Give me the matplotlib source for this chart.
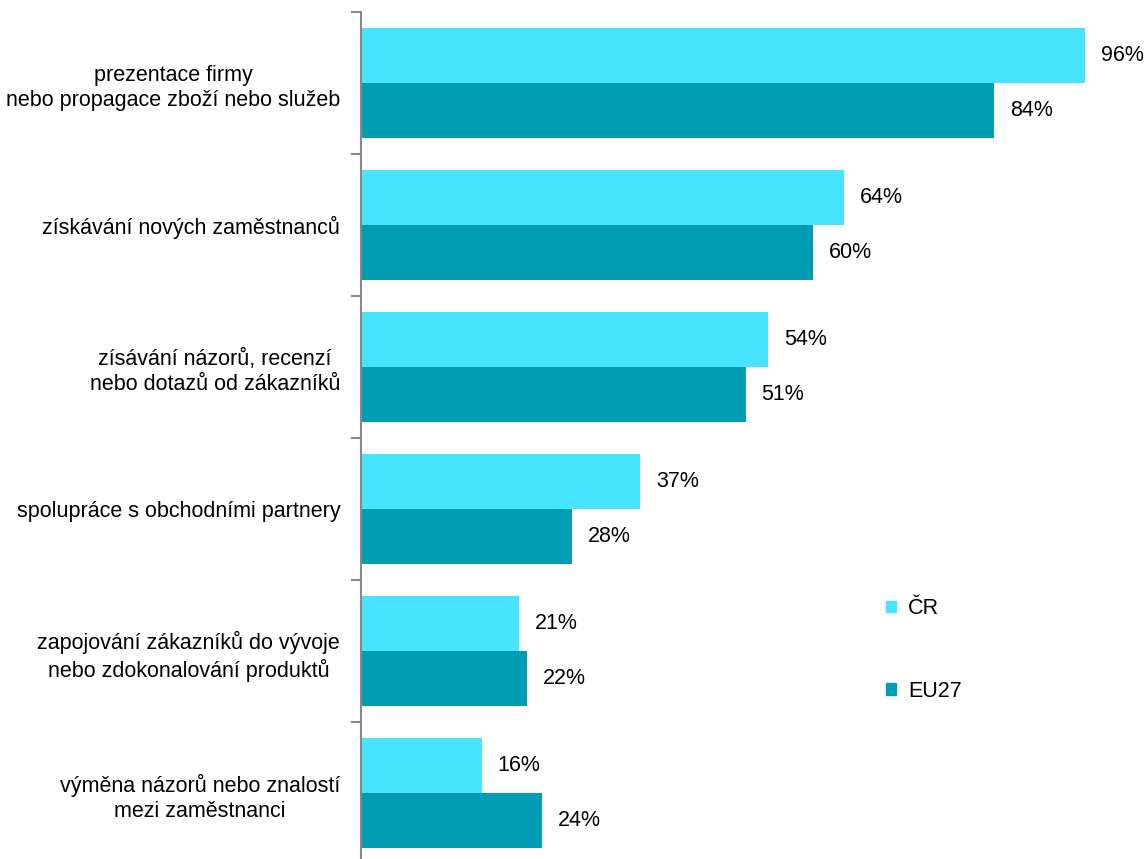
import matplotlib
matplotlib.use("Agg")
import matplotlib.pyplot as plt
from matplotlib.patches import Patch
import numpy as np

plt.rcParams['font.family'] = ['Liberation Sans', 'DejaVu Sans']

categories = [
    "prezentace firmy\nnebo propagace zboží nebo služeb",
    "získávání nových zaměstnanců",
    "zísávání názorů, recenzí\nnebo dotazů od zákazníků",
    "spolupráce s obchodními partnery",
    "zapojování zákazníků do vývoje\nnebo zdokonalování produktů",
    "výměna názorů nebo znalostí\nmezi zaměstnanci",
]
cr_values = [96, 64, 54, 37, 21, 16]
eu_values = [84, 60, 51, 28, 22, 24]
series_names = ["ČR", "EU27"]

cr_color = "#48E4FF"
eu_color = "#009DB5"
fs = 15.5

fig = plt.figure(figsize=(11.46, 8.59), dpi=100)
ax = fig.add_axes([361 / 1146, -5 / 859, (1115 - 361) / 1146, (864 - 12) / 859])

y = np.arange(len(categories))
h = 0.384
ax.barh(y - h / 2, cr_values, height=h, color=cr_color)
ax.barh(y + h / 2, eu_values, height=h, color=eu_color)

for yi, v in zip(y, cr_values):
    ax.text(v + 2.1, yi - h / 2, f"{v}%", va="center", ha="left", fontsize=fs)
for yi, v in zip(y, eu_values):
    ax.text(v + 2.1, yi + h / 2, f"{v}%", va="center", ha="left", fontsize=fs)

ax.set_xlim(0, 100)
ax.set_ylim(len(categories) - 0.5, -0.5)
ax.set_yticks(y)
ax.set_yticklabels(categories, fontsize=fs, multialignment="center", linespacing=1.27)
ax.tick_params(axis="y", which="major", length=0, pad=15)
ax.set_yticks(np.arange(-0.5, len(categories)), minor=True)
ax.tick_params(axis="y", which="minor", length=7, color="#888888", width=1.5)
ax.set_xticks([])
for s in ["top", "right", "bottom"]:
    ax.spines[s].set_visible(False)
ax.spines["left"].set_color("#888888")
ax.spines["left"].set_linewidth(1.5)

handles = [Patch(color=cr_color), Patch(color=eu_color)]
fig.legend(handles, series_names, loc="upper left", bbox_to_anchor=(867 / 1146, 1 - 579 / 859),
           frameon=False, fontsize=fs, handlelength=0.45, handleheight=0.45,
           handletextpad=0.55, labelspacing=2.85)

fig.savefig("out.png", dpi=100)
